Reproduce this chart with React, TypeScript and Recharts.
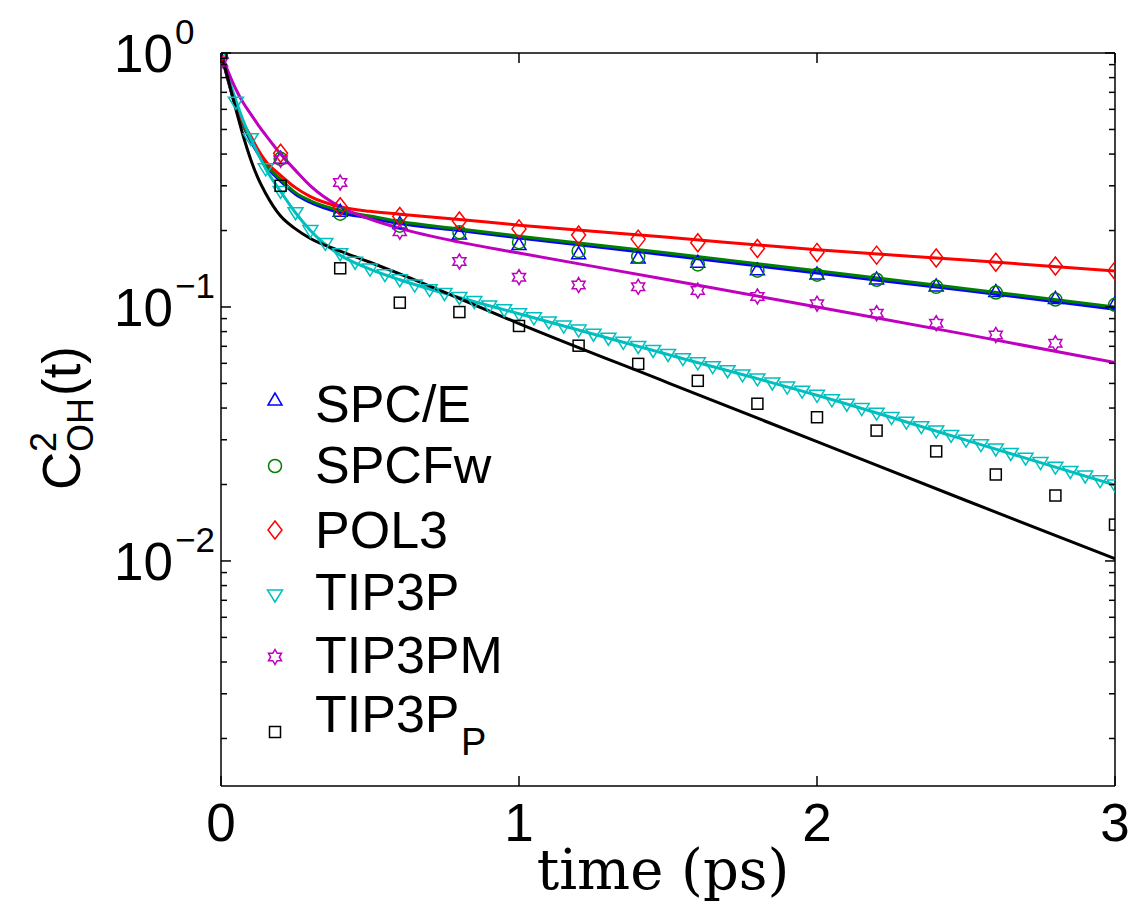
import React from 'react'
import { ComposedChart, Line, Scatter, XAxis, YAxis, ReferenceLine, Legend } from 'recharts'

// marker sample times (ps)
const markerTimes = [0, 0.2, 0.4, 0.6, 0.8, 1.0, 1.2, 1.4, 1.6, 1.8, 2.0, 2.2, 2.4, 2.6, 2.8, 3.0]
const spceMarks = [1.0, 0.385, 0.238, 0.213, 0.194, 0.176, 0.162, 0.156, 0.15, 0.14, 0.135, 0.129, 0.121, 0.115, 0.108, 0.103]
const spcfwMarks = [1.0, 0.383, 0.233, 0.209, 0.197, 0.18, 0.166, 0.158, 0.147, 0.139, 0.134, 0.128, 0.12, 0.114, 0.107, 0.102]
const pol3Marks = [1.0, 0.403, 0.248, 0.227, 0.218, 0.203, 0.192, 0.185, 0.179, 0.17, 0.164, 0.16, 0.156, 0.15, 0.145, 0.139]
const tip3pmTimes = [0, 0.2, 0.4, 0.6, 0.8, 1.0, 1.2, 1.4, 1.6, 1.8, 2.0, 2.2, 2.4, 2.6, 2.8]
const tip3pmMarks = [0.92, 0.38, 0.309, 0.198, 0.151, 0.131, 0.122, 0.12, 0.116, 0.11, 0.103, 0.0945, 0.0863, 0.0776, 0.0719]
const tip3ppMarks = [1.0, 0.3, 0.142, 0.104, 0.0955, 0.0842, 0.0704, 0.0597, 0.0512, 0.0416, 0.0368, 0.0326, 0.027, 0.0219, 0.0181, 0.0139]

// TIP3P is sampled every 0.05 ps
const tip3pTimes = [
  0, 0.05, 0.1, 0.15, 0.2, 0.25, 0.3, 0.35, 0.4, 0.45, 0.5, 0.55, 0.6, 0.65, 0.7, 0.75, 0.8, 0.85, 0.9, 0.95,
  1.0, 1.05, 1.1, 1.15, 1.2, 1.25, 1.3, 1.35, 1.4, 1.45, 1.5, 1.55, 1.6, 1.65, 1.7, 1.75, 1.8, 1.85, 1.9, 1.95,
  2.0, 2.05, 2.1, 2.15, 2.2, 2.25, 2.3, 2.35, 2.4, 2.45, 2.5, 2.55, 2.6, 2.65, 2.7, 2.75, 2.8, 2.85, 2.9, 2.95, 3.0,
]
const tip3pMarks = [
  1.0, 0.64, 0.46, 0.35, 0.285, 0.235, 0.2, 0.178, 0.162, 0.15, 0.141, 0.134, 0.128, 0.122, 0.117, 0.113, 0.109, 0.105, 0.101, 0.0975,
  0.094, 0.0906, 0.0873, 0.0841, 0.0811, 0.0781, 0.0753, 0.0726, 0.0699, 0.0674, 0.065, 0.0626, 0.0603, 0.0582, 0.0561, 0.054, 0.0521, 0.0502, 0.0484, 0.0466,
  0.0449, 0.0431, 0.0414, 0.0398, 0.0382, 0.0367, 0.0352, 0.0338, 0.0325, 0.0312, 0.0299, 0.0287, 0.0276, 0.0265, 0.0254, 0.0244, 0.0234, 0.0225, 0.0216, 0.0207, 0.0199,
]

// fitted curves
const fitTimes = [0, 0.025, 0.05, 0.075, 0.1, 0.125, 0.15, 0.2, 0.25, 0.3, 0.4, 0.5, 0.6, 0.8, 1.0, 1.5, 2.0, 2.5, 3.0]
const spceFit = [1.0, 0.77, 0.61, 0.515, 0.45, 0.4, 0.36, 0.313, 0.278, 0.258, 0.235, 0.224, 0.213, 0.2, 0.187, 0.16, 0.136, 0.116, 0.098]
const spcfwFit = [1.0, 0.775, 0.615, 0.52, 0.455, 0.405, 0.365, 0.318, 0.282, 0.262, 0.24, 0.228, 0.217, 0.203, 0.19, 0.163, 0.139, 0.118, 0.1]
const pol3Fit = [1.0, 0.78, 0.625, 0.53, 0.47, 0.415, 0.375, 0.33, 0.295, 0.272, 0.248, 0.238, 0.232, 0.221, 0.21, 0.188, 0.168, 0.153, 0.1387]
const tip3pFit = [1.0, 0.8, 0.65, 0.54, 0.46, 0.4, 0.35, 0.285, 0.235, 0.2, 0.16, 0.141, 0.128, 0.109, 0.094, 0.065, 0.0449, 0.0299, 0.0199]
const tip3pmFit = [1.0, 0.84, 0.72, 0.635, 0.575, 0.52, 0.475, 0.4, 0.345, 0.3, 0.248, 0.222, 0.204, 0.18, 0.163, 0.128, 0.1, 0.078, 0.0604]
const tip3ppFit = [1.0, 0.78, 0.6, 0.47, 0.38, 0.32, 0.28, 0.228, 0.203, 0.186, 0.166, 0.15, 0.135, 0.108, 0.086, 0.0503, 0.0295, 0.0173, 0.0102]

const xTicks = [0, 1, 2, 3]
const yTicks = [
  0.002, 0.003, 0.004, 0.005, 0.006, 0.007, 0.008, 0.009, 0.01,
  0.02, 0.03, 0.04, 0.05, 0.06, 0.07, 0.08, 0.09, 0.1,
  0.2, 0.3, 0.4, 0.5, 0.6, 0.7, 0.8, 0.9, 1,
]

const toPoints = (ts: number[], vs: number[]) => ts.map((t, i) => ({ t, v: vs[i] }))

const W = 1131
const H = 906
const LEFT = 221
const RIGHT = 1115
const TOP = 53
const BOTTOM = 786
const SANS = '"Liberation Sans", Arial, Helvetica, sans-serif'
const FS = 53

const BLUE = '#0000ff'
const GREEN = '#008000'
const RED = '#ff0000'
const CYAN = '#00bfbf'
const MAGENTA = '#bf00bf'
const BLACK = '#000000'

type Kind = 'up' | 'circle' | 'diamond' | 'down' | 'hex' | 'square'

function Marker({ kind, cx, cy, color }: { kind: Kind; cx: number; cy: number; color: string }) {
  const common = { fill: 'none', stroke: color, strokeWidth: 1.5 }
  if (kind === 'up') {
    return <polygon points={`${cx},${cy - 7} ${cx - 7},${cy + 5} ${cx + 7},${cy + 5}`} {...common} />
  }
  if (kind === 'down') {
    return <polygon points={`${cx - 7.5},${cy - 5} ${cx + 7.5},${cy - 5} ${cx},${cy + 7}`} {...common} />
  }
  if (kind === 'circle') return <circle cx={cx} cy={cy} r={6.5} {...common} />
  if (kind === 'diamond') {
    return <polygon points={`${cx},${cy - 9} ${cx + 7},${cy} ${cx},${cy + 9} ${cx - 7},${cy}`} {...common} />
  }
  if (kind === 'square') return <rect x={cx - 5.5} y={cy - 5.5} width={11} height={11} {...common} />
  const pts: string[] = []
  for (let i = 0; i < 12; i++) {
    const r = i % 2 === 0 ? 7.5 : 4.33
    const a = -Math.PI / 2 + (i * Math.PI) / 6
    pts.push(`${cx + r * Math.cos(a)},${cy + r * Math.sin(a)}`)
  }
  return <polygon points={pts.join(' ')} {...common} />
}

const shapeOf = (kind: Kind, color: string) => (props: any) =>
  <Marker kind={kind} cx={props.cx} cy={props.cy} color={color} />

function YTick({ y, payload }: any) {
  const v = payload.value
  const lg = Math.log10(v)
  const exp = Math.round(lg)
  const major = Math.abs(lg - exp) < 1e-6
  const len = major ? 10 : 6
  return (
    <g>
      <line x1={LEFT} x2={LEFT + len} y1={y} y2={y} stroke="#000" strokeWidth={1.5} />
      <line x1={RIGHT} x2={RIGHT - len} y1={y} y2={y} stroke="#000" strokeWidth={1.5} />
      {major && (
        <g fontFamily={SANS} fill="#000">
          <text x={173} y={y + 19} textAnchor="end" fontSize={FS}>10</text>
          <text x={175} y={y - 9} fontSize={35}>{exp === 0 ? '0' : '\u2212' + Math.abs(exp)}</text>
        </g>
      )}
    </g>
  )
}

function XTick({ x, payload }: any) {
  return (
    <g>
      <line x1={x} x2={x} y1={BOTTOM} y2={BOTTOM - 10} stroke="#000" strokeWidth={1.5} />
      <line x1={x} x2={x} y1={TOP} y2={TOP + 10} stroke="#000" strokeWidth={1.5} />
      <text x={x} y={BOTTOM + 55} textAnchor="middle" fontFamily={SANS} fontSize={FS} fill="#000">
        {payload.value}
      </text>
    </g>
  )
}

function XLabel() {
  return (
    <text x={(LEFT + RIGHT) / 2 - 5} y={889} textAnchor="middle" fontFamily='"DejaVu Serif", serif' fontSize={56} fill="#000">
      time (ps)
    </text>
  )
}

function YLabel() {
  return (
    <g transform="translate(80, 370) rotate(-90)" fontFamily={SANS} fill="#000">
      <text x={-120} y={0} fontSize={FS}>C</text>
      <text x={-82} y={-24} fontSize={36}>2</text>
      <text x={-82} y={13} fontSize={36}>OH</text>
      <text x={-26} y={0} fontSize={FS}>(t)</text>
    </g>
  )
}

const LFS = 52
const legendRows: { name: string; kind: Kind; color: string; my: number; ty: number }[] = [
  { name: 'SPC/E', kind: 'up', color: BLUE, my: 40, ty: 62 },
  { name: 'SPCFw', kind: 'circle', color: GREEN, my: 106, ty: 123 },
  { name: 'POL3', kind: 'diamond', color: RED, my: 170, ty: 188 },
  { name: 'TIP3P', kind: 'down', color: CYAN, my: 235, ty: 250 },
  { name: 'TIP3PM', kind: 'hex', color: MAGENTA, my: 297, ty: 313 },
  { name: 'TIP3P', kind: 'square', color: BLACK, my: 372, ty: 372 },
]

function LegendBox() {
  return (
    <svg width={330} height={410} style={{ display: 'block' }}>
      {legendRows.map((r, i) => (
        <g key={i}>
          <Marker kind={r.kind} cx={35} cy={r.my} color={r.color} />
          <text x={75} y={r.ty} fontFamily={SANS} fontSize={LFS} fill="#000">{r.name}</text>
        </g>
      ))}
      <text x={221} y={395} fontFamily={SANS} fontSize={38} fill="#000">P</text>
    </svg>
  )
}

export default function App() {
  return (
    <div style={{ position: 'absolute', left: 0, top: 0, background: '#fff' }}>
      <ComposedChart width={W} height={H} margin={{ top: TOP, right: W - RIGHT, left: 0, bottom: 0 }}>
        <XAxis
          dataKey="t"
          type="number"
          domain={[0, 3]}
          ticks={xTicks}
          height={H - BOTTOM}
          tickSize={0}
          tickMargin={0}
          tickLine={false}
          axisLine={{ stroke: '#000', strokeWidth: 1.5 }}
          tick={<XTick />}
          label={<XLabel />}
          allowDataOverflow
        />
        <YAxis
          dataKey="v"
          type="number"
          scale="log"
          domain={[0.0013, 1]}
          ticks={yTicks}
          width={LEFT}
          tickSize={0}
          tickMargin={0}
          tickLine={false}
          axisLine={{ stroke: '#000', strokeWidth: 1.5 }}
          tick={<YTick />}
          label={<YLabel />}
          interval={0}
          allowDataOverflow
        />
        <ReferenceLine y={1} stroke="#000" strokeWidth={1.5} />
        <ReferenceLine x={3} stroke="#000" strokeWidth={1.5} />

        <Scatter data={toPoints(markerTimes, spceMarks)} shape={shapeOf('up', BLUE)} isAnimationActive={false} />
        <Scatter data={toPoints(markerTimes, spcfwMarks)} shape={shapeOf('circle', GREEN)} isAnimationActive={false} />
        <Scatter data={toPoints(markerTimes, pol3Marks)} shape={shapeOf('diamond', RED)} isAnimationActive={false} />
        <Scatter data={toPoints(tip3pTimes, tip3pMarks)} shape={shapeOf('down', CYAN)} isAnimationActive={false} />
        <Scatter data={toPoints(tip3pmTimes, tip3pmMarks)} shape={shapeOf('hex', MAGENTA)} isAnimationActive={false} />
        <Scatter data={toPoints(markerTimes, tip3ppMarks)} shape={shapeOf('square', BLACK)} isAnimationActive={false} />

        <Line data={toPoints(fitTimes, spceFit)} dataKey="v" type="monotone" stroke={BLUE} strokeWidth={3} dot={false} activeDot={false} isAnimationActive={false} />
        <Line data={toPoints(fitTimes, spcfwFit)} dataKey="v" type="monotone" stroke={GREEN} strokeWidth={3} dot={false} activeDot={false} isAnimationActive={false} />
        <Line data={toPoints(fitTimes, pol3Fit)} dataKey="v" type="monotone" stroke={RED} strokeWidth={3} dot={false} activeDot={false} isAnimationActive={false} />
        <Line data={toPoints(fitTimes, tip3pFit)} dataKey="v" type="monotone" stroke={CYAN} strokeWidth={3} dot={false} activeDot={false} isAnimationActive={false} />
        <Line data={toPoints(fitTimes, tip3pmFit)} dataKey="v" type="monotone" stroke={MAGENTA} strokeWidth={3} dot={false} activeDot={false} isAnimationActive={false} />
        <Line data={toPoints(fitTimes, tip3ppFit)} dataKey="v" type="monotone" stroke={BLACK} strokeWidth={3} dot={false} activeDot={false} isAnimationActive={false} />

        <Legend
          layout="vertical"
          align="center"
          verticalAlign="middle"
          content={() => <LegendBox />}
          wrapperStyle={{ left: 240, top: 360, width: 330, height: 410 }}
        />
      </ComposedChart>
    </div>
  )
}
